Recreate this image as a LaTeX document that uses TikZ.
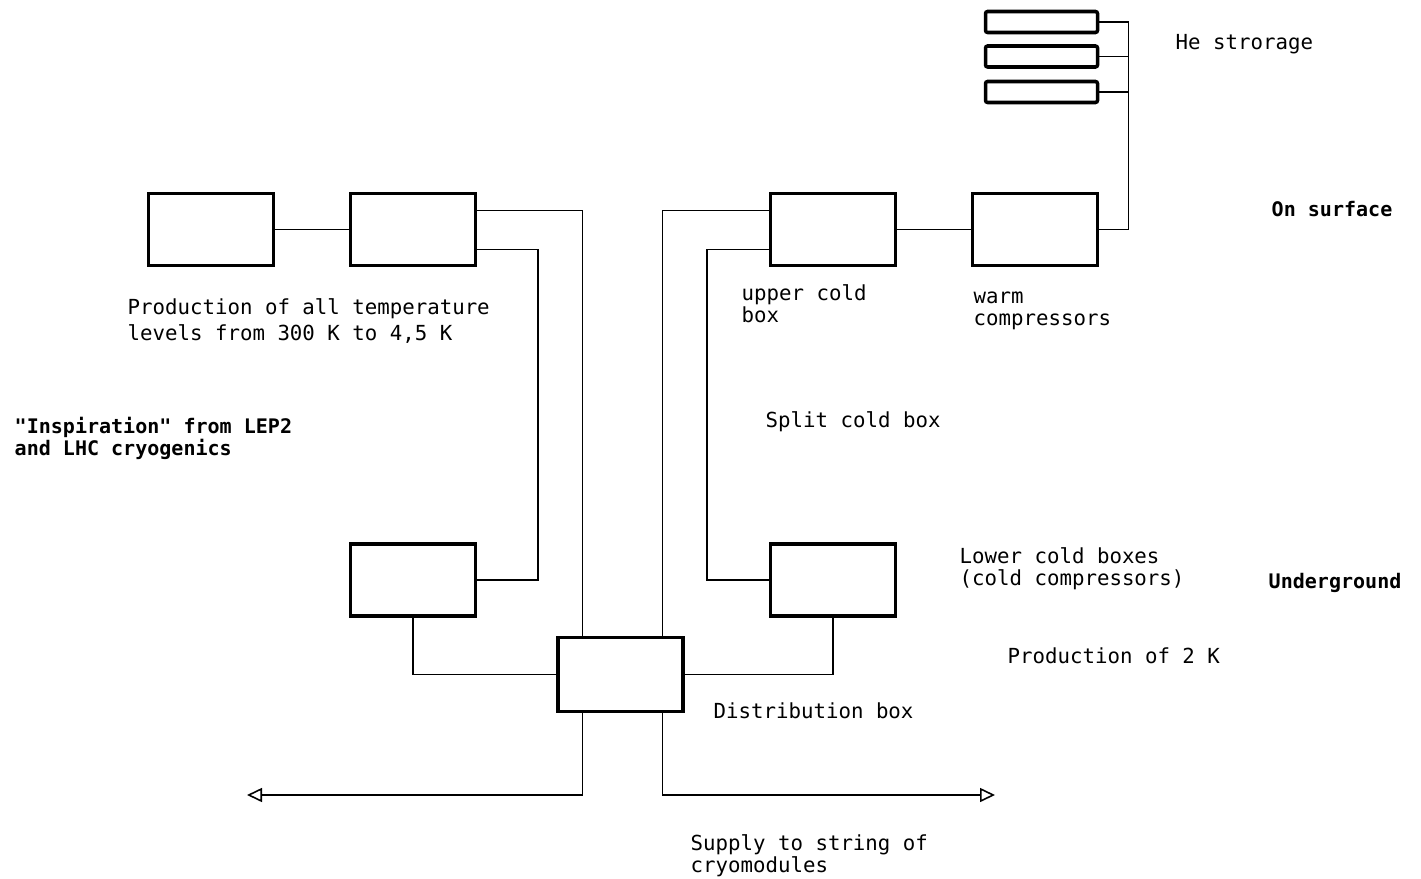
\documentclass[tikz,border=0pt]{standalone}
\usepackage{fontspec}
\setmonofont{DejaVu Sans Mono}
\usetikzlibrary{arrows.meta, positioning, calc}

\begin{document}
\begin{tikzpicture}[
    unit/.style={draw, line width=1pt, minimum width=1.25cm, minimum height=0.72cm, inner sep=0pt},
    tank/.style={draw, line width=1pt, rounded corners=0.6pt, minimum width=1.12cm, minimum height=0.21cm, inner sep=0pt},
    pipe/.style={line width=0.45pt},
    supply/.style={pipe, -{Triangle[open, length=1.5mm, width=1.4mm]}},
    txt/.style={font=\ttfamily\fontsize{5.9pt}{6.3pt}\selectfont, align=left, inner sep=0pt, anchor=west},
    bold/.style={font=\ttfamily\bfseries\fontsize{5.7pt}{6.3pt}\selectfont, align=left, inner sep=0pt, anchor=west}
  ]
  \useasboundingbox (0,0) rectangle (14.21,-8.78);

  % surface plant
  \node[unit] (prod) at (2.11,-2.295) {};
  \node[unit, right=7.35mm of prod] (refr) {};
  \node[unit] (upper) at (8.33,-2.295) {};
  \node[unit, right=7.35mm of upper] (warm) {};
  \node[tank] (tank1) at (10.415,-0.22) {};
  \node[tank] (tank2) at (10.415,-0.565) {};
  \node[tank] (tank3) at (10.415,-0.92) {};

  % underground
  \node[unit, below=2.75cm of refr] (lowleft) {};
  \node[unit, below=2.75cm of upper] (lower) {};
  \node[unit, minimum height=0.74cm] (distr) at (6.205,-6.745) {};

  % pipes
  \draw[pipe] (prod.east) -- (refr.west);
  \draw[pipe] ([yshift=1.9mm]refr.east) -| ([xshift=-3.8mm]distr.north);
  \draw[pipe] ([yshift=-2mm]refr.east) -- ++(6.1mm,0) |- (lowleft.east);
  \draw[pipe] (lowleft.south) |- (distr.west);
  \draw[pipe] (distr.east) -| (lower.south);
  \draw[pipe] ([yshift=1.9mm]upper.west) -| ([xshift=4.2mm]distr.north);
  \draw[pipe] ([yshift=-2mm]upper.west) -- ++(-6.2mm,0) |- (lower.west);
  \draw[pipe] (upper.east) -- (warm.west);
  \coordinate (hebus) at ($(warm.east)+(2.9mm,0)$);
  \draw[pipe] (warm.east) -- (hebus) -- (hebus |- tank1.east) -- (tank1.east);
  \foreach \t in {tank2,tank3}
    \draw[pipe] (\t.east) -- (hebus |- \t.east);

  % supply lines
  \coordinate (supW) at (2.47,-7.95);
  \coordinate (supE) at (9.95,-7.95);
  \draw[supply] ([xshift=-3.8mm]distr.south) |- (supW);
  \draw[supply] ([xshift=4.2mm]distr.south) |- (supE);

  % labels
  \node[txt] (lhe) at (11.75,-0.44) {He strorage};
  \node[bold] (lsurf) at (12.71,-2.09) {On surface};
  \node[txt, font=\ttfamily\fontsize{5.9pt}{7.4pt}\selectfont] (lprod) at (1.27,-3.21) {Production of all temperature\\levels from 300 K to 4,5 K};
  \node[txt] (lupper) at (7.41,-3.04) {upper cold\\box};
  \node[txt] (lwarm) at (9.73,-3.11) {warm\\compressors};
  \node[bold] (linsp) at (0.14,-4.38) {"Inspiration" from LEP2\\and LHC cryogenics};
  \node[txt] (lsplit) at (7.65,-4.22) {Split cold box};
  \node[txt] (llower) at (9.59,-5.69) {Lower cold boxes\\(cold compressors)};
  \node[bold] (lunder) at (12.68,-5.83) {Underground};
  \node[txt] (ltwo) at (10.07,-6.56) {Production of 2 K};
  \node[txt] (ldistr) at (7.13,-7.11) {Distribution box};
  \node[txt] (lsupply) at (6.90,-8.56) {Supply to string of\\cryomodules};
\end{tikzpicture}
\end{document}
